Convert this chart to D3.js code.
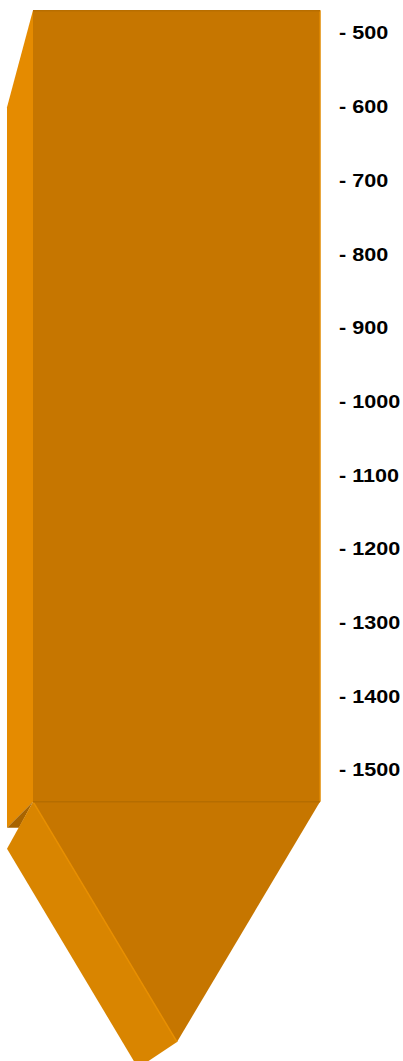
<!DOCTYPE html>
<html>
<head>
<meta charset="utf-8">
<script src="https://cdn.jsdelivr.net/npm/d3@7"></script>
<style>
  body { margin: 0; background: #fff; }
  svg { display: block; }
</style>
</head>
<body>
<script>
// scale ticks shown on the right
var tickValues = [500, 600, 700, 800, 900, 1000, 1100, 1200, 1300, 1400, 1500];
var tickLabels = tickValues.map(function(v) { return "- " + v; });

// the pointer body: top, bottom of the box and the end of the tip (scale units)
var barTop = 469;
var barBottom = 1543;
var tipEnd = 1869;

var w = 403;
var h = 1061;

var svg = d3.select("body").append("svg")
    .attr("width", w)
    .attr("height", h);

//vertical value scale
var y = d3.scaleLinear().domain([500, 1500]).range([33, 770]);
//horizontal position across the front face (0 = left edge, 1 = right edge)
var x = d3.scaleLinear().domain([0, 1]).range([33, 320]);

var line = d3.line();

//perspective offsets of the side faces in pixels
var depthX = -26;

var xl = x(0), xr = x(1), xm = x(0.5);
var yt = y(barTop), yb = y(barBottom), yp = y(tipEnd);

//left side face
svg.append("path")
    .attr("d", line([[xl, yt], [xl + depthX, yt + 97], [xl + depthX, yb + 26], [xl, yb]]) + "Z")
    .attr("fill", "#e58b00");

//underside of left face
svg.append("path")
    .attr("d", line([[xl, yb], [xl + depthX, yb + 26], [xl - 14, yb + 26]]) + "Z")
    .attr("fill", "#a86400");

//side face of the tip
svg.append("path")
    .attr("d", line([[xl, yb], [xl + depthX, yb + 47], [138, 1068], [xm + 0.5, yp]]) + "Z")
    .attr("fill", "#d98500");

//front face: box plus tip
svg.append("path")
    .attr("d", line([[xl, yt], [xr, yt], [xr, yb], [xm + 0.5, yp], [xl, yb]]) + "Z")
    .attr("fill", "#c67600");

//edge highlights
svg.append("path")
    .attr("d", line([[xl, yb], [xm + 0.5, yp]]))
    .attr("stroke", "#e88f00")
    .attr("stroke-width", 1.5)
    .attr("fill", "none");

svg.append("path")
    .attr("d", line([[xr, yt], [xr, yb]]))
    .attr("stroke", "#e08a00")
    .attr("stroke-width", 1.5)
    .attr("fill", "none");

svg.append("path")
    .attr("d", line([[xl, yt + 0.5], [xr, yt + 0.5]]))
    .attr("stroke", "#b86e00")
    .attr("stroke-width", 1.5)
    .attr("fill", "none");

svg.append("path")
    .attr("d", line([[xl, yb], [xr, yb]]))
    .attr("stroke", "#b56d00")
    .attr("stroke-width", 1.5)
    .attr("fill", "none");

//tick labels, slightly stretched sideways like the original
svg.selectAll("text.tick")
    .data(tickValues)
    .enter()
    .append("text")
    .attr("class", "tick")
    .attr("transform", function(d) { return "translate(339," + y(d) + ") scale(1.2,1)"; })
    .attr("dy", "0.36em")
    .attr("font-family", "'Liberation Sans', Arial, sans-serif")
    .attr("font-weight", "bold")
    .attr("font-size", "18px")
    .attr("fill", "#000")
    .text(function(d, i) { return tickLabels[i]; });
</script>
</body>
</html>
